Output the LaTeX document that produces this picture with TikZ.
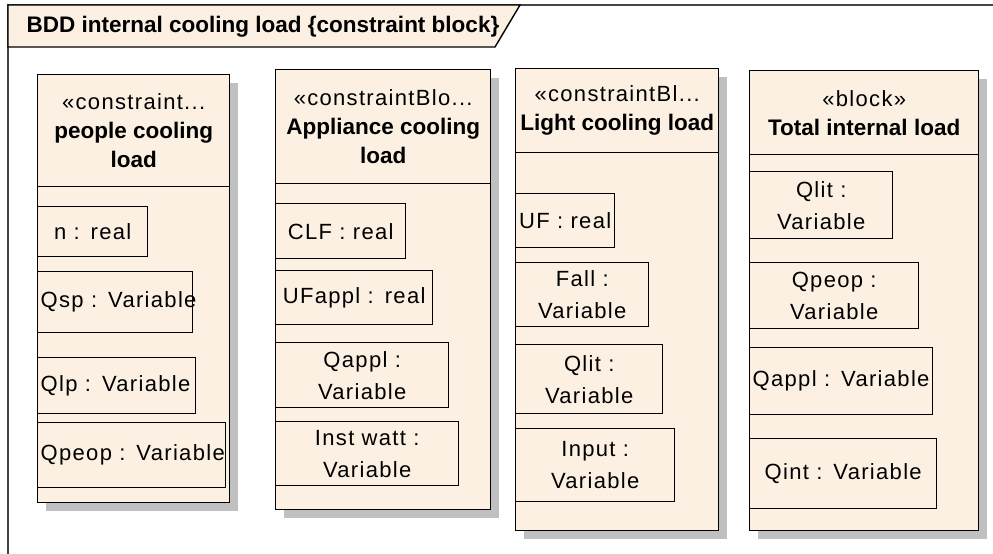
\documentclass[tikz,border=0pt]{standalone}
\usepackage{fontspec}
\setmainfont{Liberation Sans}[UprightFeatures={LetterSpace=6}]
\usetikzlibrary{positioning, shadows}
\definecolor{cream}{RGB}{251,240,226}
\definecolor{framegray}{RGB}{70,70,70}
\definecolor{shadowgray}{RGB}{192,192,192}

\begin{document}
\begin{tikzpicture}[x=1pt,y=-1pt,line width=1.4pt,
          blockbox/.style={draw=black,fill=cream,anchor=north west,inner sep=0pt,
                      drop shadow={shadow xshift=8pt,shadow yshift=-8pt,
                                   fill=shadowgray,opacity=1}},
          headbox/.style={draw=black,fill=cream,anchor=north,inner sep=0pt,align=center,
                      font=\fontsize{22}{29}\selectfont},
          propbox/.style={draw=black,fill=cream,anchor=north west,inner xsep=3pt,
                      inner ysep=0pt,align=center,font=\fontsize{22}{32}\selectfont}]
        \useasboundingbox (0,0) rectangle (993,554);
        % frame and tab
        \draw[framegray,line width=1.6pt] (8,554) -- (8,5) -- (993,5);
        \draw[black,fill=cream] (8,5) -- (520,5) -- (495,47) -- (8,47) -- cycle;
        \node[anchor=west,inner sep=0pt,font=\bfseries\fontsize{22.5}{27}\selectfont]
          (title) at (26,27) {BDD internal cooling load \{constraint block\}};
        % people cooling load
        \node[blockbox,minimum width=192pt,minimum height=428pt] (people) at (37,74) {};
        \node[headbox,minimum width=192pt,minimum height=112pt] (peoplehead) at (people.north)
          {«constraint...\\\bfseries\fontsize{22.5}{29}\selectfont people cooling\\\bfseries\fontsize{22.5}{29}\selectfont load};
        \node[propbox,text width=104pt,minimum height=50pt] (n) at (37,206) {n : real};
        \node[propbox,align=left,text width=149pt,minimum height=61pt] (qsp) at (37,271) {\mbox{Qsp : Variable}};
        \node[propbox,align=left,text width=152pt,minimum height=56pt] (qlp) at (37,357) {\mbox{Qlp : Variable}};
        \node[propbox,align=left,text width=182pt,minimum height=65pt] (qpeop) at (37,422) {\mbox{Qpeop : Variable}};
        % appliance cooling load
        \node[blockbox,minimum width=215pt,minimum height=440pt] (appl) at (275,69) {};
        \node[headbox,minimum width=215pt,minimum height=114pt] (applhead) at (appl.north)
          {«constraintBlo...\\\bfseries\fontsize{22.5}{29}\selectfont Appliance cooling\\\bfseries\fontsize{22.5}{29}\selectfont load};
        \node[propbox,text width=124pt,minimum height=55pt] (clf) at (275,203) {\mbox{CLF : real}};
        \node[propbox,text width=151pt,minimum height=54pt] (ufappl) at (275,270) {\mbox{UFappl : real}};
        \node[propbox,text width=167pt,minimum height=65pt] (qappl) at (275,342) {Qappl :\\Variable};
        \node[propbox,text width=177pt,minimum height=64pt] (inst) at (275,421) {Inst watt :\\Variable};
        % light cooling load
        \node[blockbox,minimum width=203pt,minimum height=462pt] (light) at (515,68) {};
        \node[headbox,minimum width=203pt,minimum height=84pt] (lighthead) at (light.north)
          {«constraintBl...\\\bfseries\fontsize{22.5}{29}\selectfont Light cooling load};
        \node[propbox,text width=93pt,minimum height=54pt] (uf) at (515,193) {\mbox{UF : real}};
        \node[propbox,text width=127pt,minimum height=64pt] (fall) at (515,262) {Fall :\\Variable};
        \node[propbox,text width=141pt,minimum height=69pt] (qlit) at (515,344) {Qlit :\\Variable};
        \node[propbox,text width=153pt,minimum height=73pt] (input) at (515,428) {Input :\\Variable};
        % total internal load
        \node[blockbox,minimum width=229pt,minimum height=460pt] (total) at (749,70) {};
        \node[headbox,minimum width=229pt,minimum height=84pt] (totalhead) at (total.north)
          {«block»\\\bfseries\fontsize{22.5}{29}\selectfont Total internal load};
        \node[propbox,text width=137pt,minimum height=67pt] (tqlit) at (749,171) {Qlit :\\Variable};
        \node[propbox,text width=163pt,minimum height=66pt] (tqpeop) at (749,262) {Qpeop :\\Variable};
        \node[propbox,align=left,text width=177pt,minimum height=67pt] (tqappl) at (749,347) {\mbox{Qappl : Variable}};
        \node[propbox,text width=181pt,minimum height=70pt] (qint) at (749,438) {\mbox{Qint : Variable}};
      \end{tikzpicture}
\end{document}
